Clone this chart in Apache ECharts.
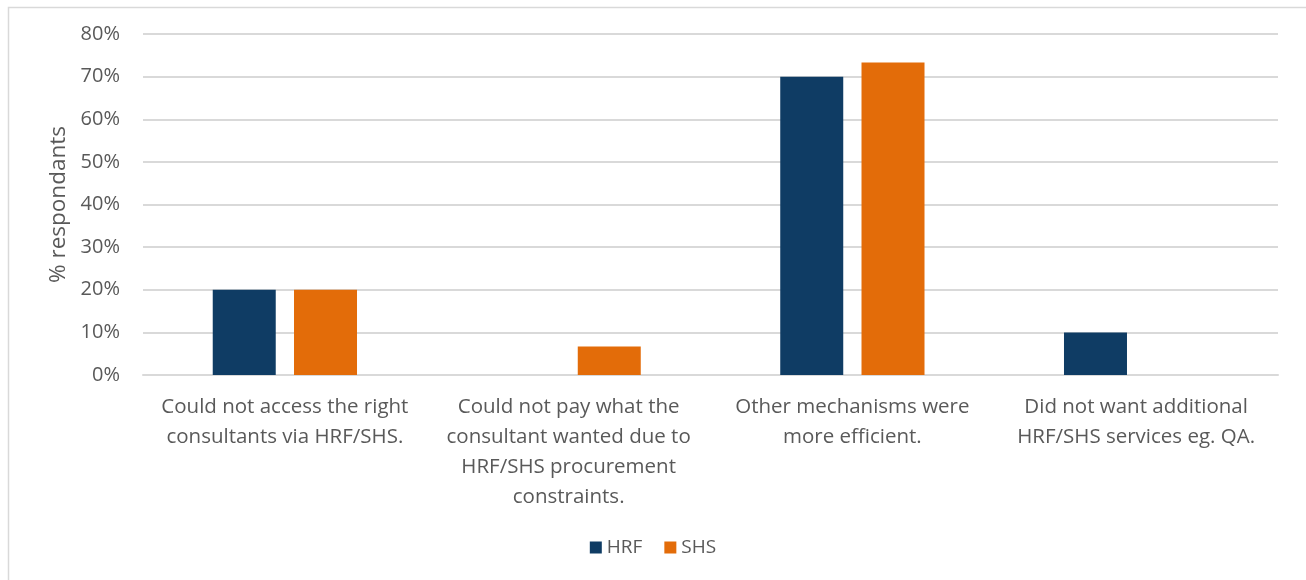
<!DOCTYPE html>
<html>
<head>
<meta charset="utf-8">
<script src="https://cdn.jsdelivr.net/npm/echarts@6/dist/echarts.min.js"></script>
<style>
html,body{margin:0;padding:0;background:#fff;}
#chart{width:1306px;height:580px;}
</style>
</head>
<body>
<div id="chart"></div>
<script>
var categories = [
  'Could not access the right\nconsultants via HRF/SHS.',
  'Could not pay what the\nconsultant wanted due to\nHRF/SHS procurement\nconstraints.',
  'Other mechanisms were\nmore efficient.',
  'Did not want additional\nHRF/SHS services eg. QA.'
];
var seriesNames = ['HRF', 'SHS'];
var hrfValues = [20, 0, 70, 10];
var shsValues = [20, 6.67, 73.33, 0];
var yTicks = [0, 10, 20, 30, 40, 50, 60, 70, 80];

var FONT = "'Open Sans', 'Lato', sans-serif";
var chart = echarts.init(document.getElementById('chart'), null, {renderer: 'canvas'});
chart.setOption({
  animation: false,
  textStyle: {fontFamily: FONT},
  graphic: [{
    type: 'rect', left: 6, top: 5,
    shape: {width: 1330, height: 600},
    style: {fill: 'none', stroke: '#d9d9d9', lineWidth: 1.5},
    silent: true
  }],
  grid: {left: 143, right: 28, top: 34, bottom: 205},
  legend: {
    data: seriesNames,
    bottom: 18,
    left: 'center',
    itemWidth: 12, itemHeight: 12, itemGap: 22,
    icon: 'rect',
    textStyle: {fontFamily: FONT, fontSize: 19, color: '#595959', padding: [0,0,0,0]}
  },
  xAxis: {
    type: 'category',
    data: categories,
    axisLine: {lineStyle: {color: '#d9d9d9', width: 2}},
    axisTick: {show: false},
    axisLabel: {fontFamily: FONT, fontSize: 20.5, color: '#595959', lineHeight: 30, margin: 17, interval: 0}
  },
  yAxis: {
    type: 'value',
    min: yTicks[0], max: yTicks[yTicks.length - 1], interval: 10,
    name: '% respondants',
    nameLocation: 'middle',
    nameGap: 73,
    nameRotate: 90,
    nameTextStyle: {fontFamily: FONT, fontSize: 22.5, color: '#595959'},
    axisLine: {show: false},
    axisTick: {show: false},
    axisLabel: {fontFamily: FONT, fontSize: 20, color: '#595959', margin: 23, formatter: '{value}%'},
    splitLine: {lineStyle: {color: '#d9d9d9', width: 2}}
  },
  series: [
    {name: seriesNames[0], type: 'bar', data: hrfValues, barWidth: 63, barGap: '29%',
     itemStyle: {color: '#0f3c64'}},
    {name: seriesNames[1], type: 'bar', data: shsValues, barWidth: 63,
     itemStyle: {color: '#e36c09'}}
  ]
});
</script>
</body>
</html>
